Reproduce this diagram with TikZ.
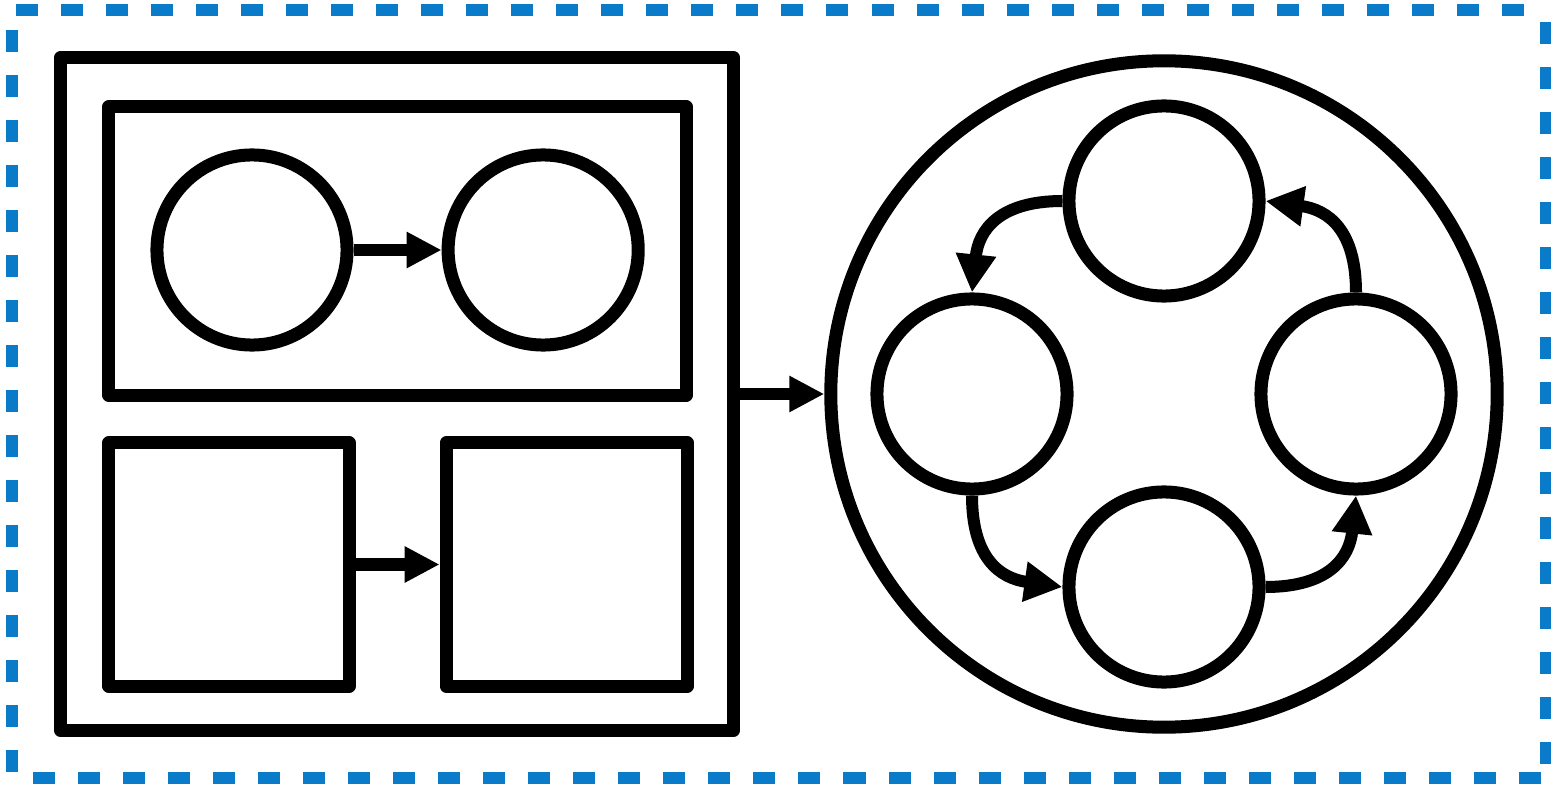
\documentclass[tikz,border=0pt]{standalone}
\usepackage{xcolor}
\usepackage{tikz}
\usetikzlibrary{arrows.meta,positioning}
\definecolor{frameblue}{HTML}{0A7BC9}

\begin{document}
\begin{tikzpicture}[
  x=0.01cm,y=-0.01cm,
  flow/.style={-{Triangle[length=3.5mm,width=3.4mm]},line width=1.2mm},
  loop/.style={-{Triangle[length=3.8mm,width=3.8mm]},line width=1.2mm,looseness=1.25},
  box/.style={draw,line width=1.3mm,line join=round,inner sep=0pt},
  ring/.style={draw,circle,line width=1.3mm,minimum size=19mm,inner sep=0pt},
  frame/.style={draw=frameblue,line width=1.2mm,dash pattern=on 2.2mm off 2.3mm}
]
\useasboundingbox (0,0) rectangle (1551,785);

% dashed outer frame
\draw[frame,dash phase=4.1mm] (12,10) -- (1546,10);
\draw[frame,dash phase=3.3mm] (1546,10) -- (1546,778);
\draw[frame,dash phase=2.4mm] (12,778) -- (1546,778);
\draw[frame,dash phase=2.5mm] (12,10) -- (12,778);

% left block
\node[box,minimum width=67.2mm,minimum height=67.3mm] (outer) at (397,394) {};
\node[box,minimum width=57.7mm,minimum height=28.8mm] (upper) at (397.5,251) {};
\node[ring] (ua) at (252,250) {};
\node[ring,right=8.8mm of ua] (ub) {};
\node[box,minimum width=24mm,minimum height=24.3mm] (la) at (229,564.5) {};
\node[box,minimum width=24.1mm,minimum height=24.3mm,right=8.4mm of la] (lb) {};

% right block
\node[ring,minimum size=66.6mm] (big) at (1164,394) {};
\node[ring] (ctop) at (1164,201) {};
\node[ring] (cleft) at (972,394) {};
\node[ring] (cright) at (1356,394) {};
\node[ring] (cbot) at (1164,587) {};

\draw[flow] (ua) -- (ub);
\draw[flow] (la) -- (lb);
\draw[flow] (outer) -- (big);
\draw[loop] (ctop.west) to[out=180,in=84] (cleft.north);
\draw[loop] (cleft.south) to[out=-90,in=172] (cbot.west);
\draw[loop] (cbot.east) to[out=0,in=-96] (cright.south);
\draw[loop] (cright.north) to[out=90,in=-8] (ctop.east);
\end{tikzpicture}
\end{document}
